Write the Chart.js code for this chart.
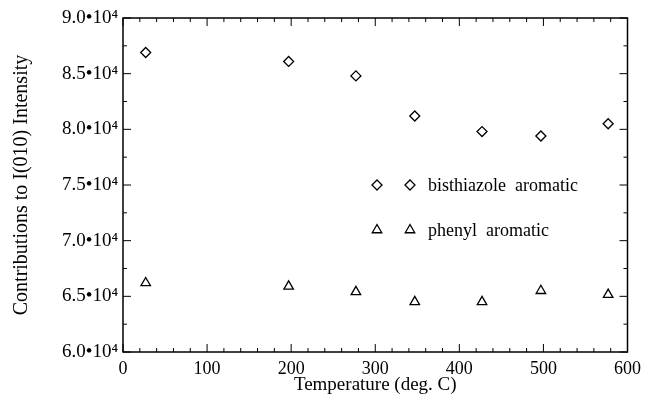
<!DOCTYPE html>
<html>
<head>
<meta charset="utf-8">
<script src="https://cdn.jsdelivr.net/npm/chart.js@4/dist/chart.umd.min.js"></script>
<style>
  html, body { margin: 0; padding: 0; background: #fff; }
  #wrap { width: 647px; height: 399px; }
</style>
</head>
<body>
<div id="wrap"><canvas id="graph"></canvas></div>
<script>
// values
const temperatures = [27, 197, 277, 347, 427, 497, 577]
const bisthiazole = [86900, 86100, 84800, 81200, 79800, 79400, 80500]
const phenyl = [66200, 65900, 65400, 64500, 64500, 65500, 65150]
const seriesLabels = ['bisthiazole  aromatic', 'phenyl  aromatic']

const FONT = 'Liberation Serif, Times New Roman, serif'

const toPoints = (xs, ys) => xs.map((x, i) => ({ x: x, y: ys[i] }))

// box round the plot with inward ticks on all four sides
const frameTicks = {
  id: 'frameTicks',
  afterDraw(chart) {
    const { ctx, chartArea: a, scales: { x, y } } = chart
    const line = (x1, y1, x2, y2) => {
      ctx.beginPath(); ctx.moveTo(x1, y1); ctx.lineTo(x2, y2); ctx.stroke()
    }
    ctx.save()
    ctx.strokeStyle = '#000'
    ctx.lineWidth = 1.5
    ctx.strokeRect(a.left, a.top, a.right - a.left, a.bottom - a.top)
    ctx.lineWidth = 1
    x.ticks.forEach(t => {
      const px = x.getPixelForValue(t.value)
      const len = t.value % 100 === 0 ? 8 : 4
      line(px, a.bottom, px, a.bottom - len)
      line(px, a.top, px, a.top + len)
    })
    y.ticks.forEach(t => {
      const py = y.getPixelForValue(t.value)
      const len = t.value % 5000 === 0 ? 8 : 4
      line(a.left, py, a.left + len, py)
      line(a.right, py, a.right - len, py)
    })
    ctx.restore()
  }
}

// legend inside the plot, two symbols per entry
const innerLegend = {
  id: 'innerLegend',
  afterDraw(chart) {
    const ctx = chart.ctx
    const rows = [185, 230]
    ctx.save()
    chart.data.datasets.forEach((ds, i) => {
      const opts = { pointStyle: ds.pointStyle, radius: ds.pointRadius, borderWidth: ds.borderWidth }
      ctx.strokeStyle = '#000'
      ctx.fillStyle = 'rgba(0,0,0,0)'
      ctx.lineWidth = ds.borderWidth
      Chart.helpers.drawPoint(ctx, opts, 377, rows[i])
      Chart.helpers.drawPoint(ctx, opts, 410, rows[i])
      ctx.fillStyle = '#000'
      ctx.font = '18px ' + FONT
      ctx.textBaseline = 'middle'
      ctx.fillText(ds.label, 428, rows[i] + 1)
    })
    ctx.restore()
  }
}

const ctx = document.getElementById('graph').getContext('2d')

let graph = new Chart(ctx, {
  type: 'scatter',
  data: {
    datasets: [
      {
        label: seriesLabels[0],
        data: toPoints(temperatures, bisthiazole),
        pointStyle: 'rectRot',
        pointRadius: 5,
        borderColor: '#000',
        backgroundColor: 'rgba(0,0,0,0)',
        borderWidth: 1.3,
      },
      {
        label: seriesLabels[1],
        data: toPoints(temperatures, phenyl),
        pointStyle: 'triangle',
        pointRadius: 5.5,
        borderColor: '#000',
        backgroundColor: 'rgba(0,0,0,0)',
        borderWidth: 1.3,
      },
    ],
  },
  options: {
    responsive: true,
    maintainAspectRatio: false,
    animation: false,
    layout: { padding: { top: 18, right: 17, left: 0, bottom: 0 } },
    plugins: {
      legend: { display: false },
      tooltip: { enabled: false },
    },
    scales: {
      x: {
        type: 'linear',
        min: 0,
        max: 600,
        afterFit: s => { s.height = 47 },
        grid: { display: false, drawTicks: false },
        border: { display: false },
        ticks: {
          stepSize: 20,
          autoSkip: false,
          maxRotation: 0,
          padding: 6,
          color: '#000',
          font: { family: FONT, size: 18 },
          callback: v => (v % 100 === 0 ? String(v) : ''),
        },
        title: {
          display: true,
          text: 'Temperature (deg. C)',
          color: '#000',
          font: { family: FONT, size: 19 },
          padding: { top: 0, bottom: 3 },
        },
      },
      y: {
        type: 'linear',
        min: 60000,
        max: 90000,
        afterFit: s => { s.width = 123 },
        grid: { display: false, drawTicks: false },
        border: { display: false },
        ticks: {
          stepSize: 2500,
          autoSkip: false,
          padding: 5,
          color: '#000',
          font: { family: FONT, size: 19 },
          callback: v => (v % 5000 === 0 ? (v / 1e4).toFixed(1) + '\u2022' + '10\u2074' : ''),
        },
        title: {
          display: true,
          text: 'Contributions to I(010) Intensity',
          color: '#000',
          font: { family: FONT, size: 20 },
          padding: { top: 10, bottom: 0 },
        },
      },
    },
  },
  plugins: [frameTicks, innerLegend],
})
</script>
</body>
</html>
